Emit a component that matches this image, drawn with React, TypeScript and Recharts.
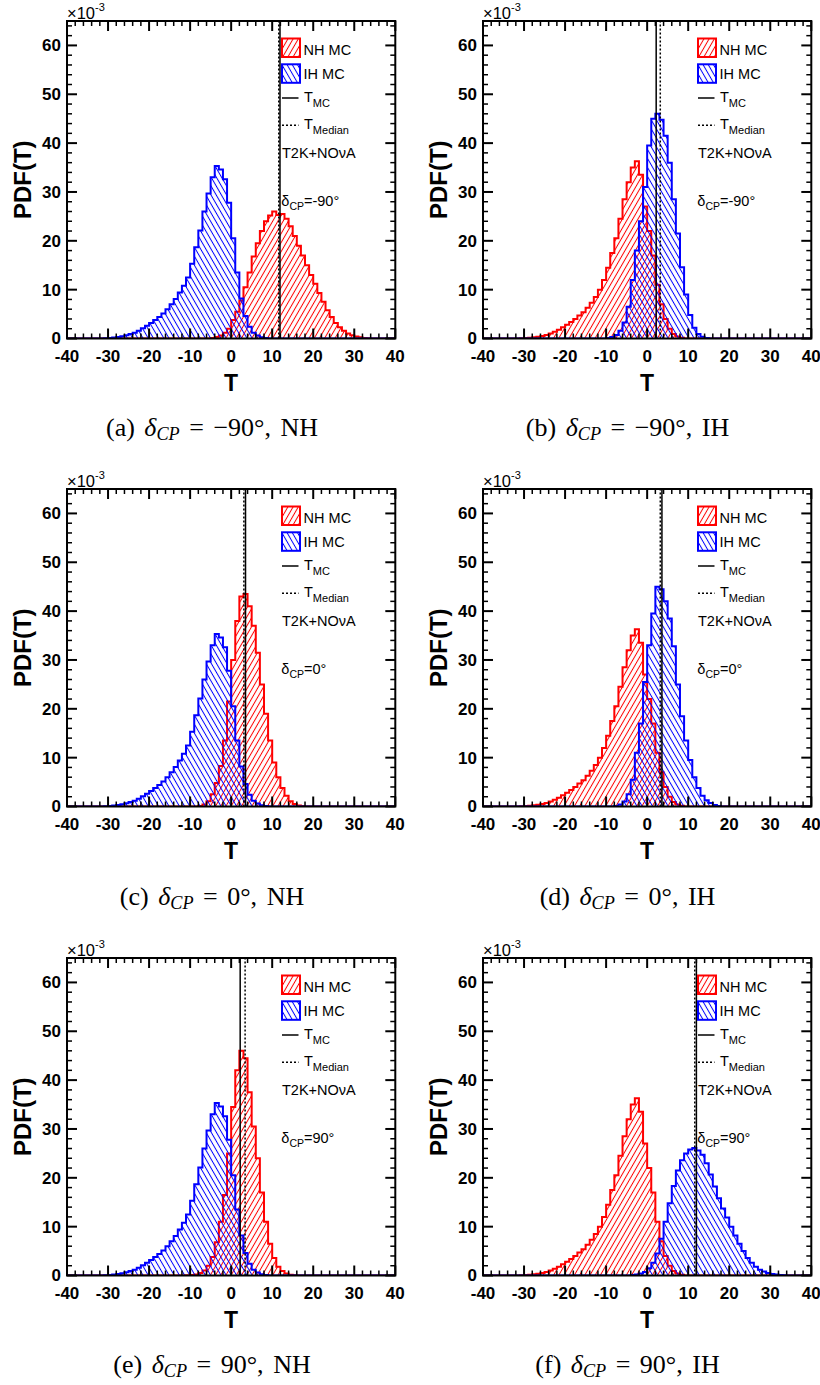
import React from 'react';
import { Area, ComposedChart, ReferenceArea, ReferenceLine, XAxis, YAxis } from 'recharts';

const SANS = '"Liberation Sans", Arial, Helvetica, sans-serif';
const SERIF = '"Liberation Serif", "Times New Roman", serif';

const T_MAJOR = [-40, -30, -20, -10, 0, 10, 20, 30, 40];
const T_TICKS = Array.from({ length: 41 }, (_, i) => -40 + 2 * i);
const PDF_MAJOR = [0, 10, 20, 30, 40, 50, 60];
const PDF_TICKS = Array.from({ length: 33 }, (_, i) => 2 * i);

// PDF(T) x 1e-3, one value per unit bin of T, the first bin starting at *_start
const nhA_start = -5;
const nhA = [0.1, 0.3, 0.6, 1.2, 2.0, 3.8, 5.5, 7.8, 10.5, 13.5, 16.8, 19.5, 22.0, 24.0, 25.2, 26.0, 25.3, 25.5, 24.5, 23.0, 21.0, 19.0, 17.0, 15.0, 13.0, 11.2, 9.3, 7.5, 5.8, 4.4, 3.2, 2.3, 1.6, 1.0, 0.65, 0.4, 0.25, 0.12, 0.05];

const nhC_start = -8;
const nhC = [0.1, 0.4, 1.1, 2.5, 4.8, 8.3, 13.5, 21.5, 30.0, 38.0, 43.0, 43.5, 41.0, 37.0, 31.5, 25.0, 19.0, 13.5, 9.0, 6.0, 3.8, 2.2, 1.1, 0.5, 0.2, 0.1];

const nhE_start = -11;
const nhE = [0.05, 0.1, 0.2, 0.5, 1.0, 2.0, 3.8, 6.8, 11.0, 16.5, 25.0, 34.5, 42.0, 46.0, 44.5, 37.5, 30.5, 24.0, 17.0, 11.0, 6.5, 3.6, 1.8, 0.9, 0.4, 0.15, 0.05];

// NH MC in the IH panels (b, d, f)
const nhIH_start = -31;
const nhIH = [0.05, 0.1, 0.15, 0.25, 0.35, 0.5, 0.7, 1.0, 1.4, 1.8, 2.3, 2.8, 3.4, 4.0, 4.7, 5.4, 6.3, 7.3, 8.5, 10.0, 12.0, 14.5, 17.5, 20.5, 24.5, 28.5, 32.0, 35.0, 36.3, 33.5, 27.0, 22.0, 17.0, 11.0, 7.0, 4.0, 2.0, 0.9, 0.4, 0.15];

// IH MC in the NH panels (a, c, e)
const ihNH_start = -31;
const ihNH = [0.06, 0.12, 0.2, 0.3, 0.45, 0.65, 0.9, 1.2, 1.6, 2.1, 2.6, 3.2, 3.8, 4.4, 5.1, 6.0, 7.0, 8.1, 9.4, 10.8, 12.5, 15.3, 18.7, 22.1, 26.0, 29.7, 33.0, 35.3, 34.6, 32.6, 27.8, 20.5, 13.5, 8.2, 4.6, 2.4, 1.2, 0.6, 0.25, 0.1];

const ihB_start = -10;
const ihB = [0.1, 0.3, 0.7, 1.6, 3.3, 6.5, 12.0, 18.0, 24.0, 31.0, 39.5, 45.0, 46.0, 44.8, 41.5, 36.0, 28.5, 21.5, 14.6, 9.0, 4.8, 2.2, 0.9, 0.35, 0.1];

const ihD_start = -8;
const ihD = [0.1, 0.4, 1.0, 2.5, 5.5, 11.0, 17.0, 25.5, 33.0, 39.5, 45.0, 44.5, 42.0, 38.5, 32.8, 25.0, 18.5, 13.5, 9.5, 6.0, 3.8, 2.2, 1.3, 0.7, 0.3, 0.1];

const ihF_start = -4;
const ihF = [0.1, 0.2, 0.4, 0.7, 1.5, 2.6, 4.5, 7.5, 11.0, 14.8, 18.3, 21.5, 23.6, 25.0, 25.8, 26.1, 25.6, 24.7, 23.0, 20.7, 18.2, 15.8, 13.7, 11.9, 10.0, 8.2, 6.5, 5.0, 3.6, 2.6, 1.8, 1.2, 0.8, 0.5, 0.3, 0.2, 0.1, 0.05];

// T_MC and T_Median per panel
const tMC = [11.9, 2.2, 3.5, 3.6, 2.2, 12.0];
const tMedian = [11.6, 3.2, 3.1, 3.2, 3.4, 11.6];

const panelTags = ['a', 'b', 'c', 'd', 'e', 'f'];
const deltaLabels = ['-90', '-90', '0', '0', '90', '90'];
const captionDelta = ['−90', '−90', '0', '0', '90', '90'];
const hierarchy = ['NH', 'IH', 'NH', 'IH', 'NH', 'IH'];

const T_BINS = Array.from({ length: 81 }, (_, i) => i - 40);

const histRows = (nh: number[], nhStart: number, ih: number[], ihStart: number) =>
  T_BINS.map((t) => ({ t, nh: nh[t - nhStart] ?? 0, ih: ih[t - ihStart] ?? 0 }));

const panelData = [
  histRows(nhA, nhA_start, ihNH, ihNH_start),
  histRows(nhIH, nhIH_start, ihB, ihB_start),
  histRows(nhC, nhC_start, ihNH, ihNH_start),
  histRows(nhIH, nhIH_start, ihD, ihD_start),
  histRows(nhE, nhE_start, ihNH, ihNH_start),
  histRows(nhIH, nhIH_start, ihF, ihF_start),
];

const COL_LEFT = [66.7, 482.7];
const ROW_TOP = [20.7, 489.0, 958.3];
const CAP_X = [212, 627.5];
const CAP_Y = [429, 898, 1366];
const PW = 328.3;
const PH = 317.5;
const ML = 67;
const MT = 25;
const MR = 12;
const MB = 70;
const AX = 0.01; // axes take (almost) no room, margins give the space

const labelStyle = { fill: '#000', fontSize: 17, fontWeight: 'bold' as const, fontFamily: SANS };

// ROOT-style ticks: inward on both opposite edges, long at labelled values
const TTick = (props: any) => {
  const { x, y, payload } = props;
  const isMajor = T_MAJOR.includes(payload.value);
  const len = isMajor ? 10 : 5;
  const sw = isMajor ? 2 : 1.5;
  return (
    <g>
      <line x1={x} x2={x} y1={y} y2={y - len} stroke="#000" strokeWidth={sw} />
      <line x1={x} x2={x} y1={y - PH} y2={y - PH + len} stroke="#000" strokeWidth={sw} />
      {isMajor && (
        <text x={x} y={y + 11} dy="0.71em" textAnchor="middle" {...labelStyle}>{payload.value}</text>
      )}
    </g>
  );
};

const PdfTick = (props: any) => {
  const { x, y, payload } = props;
  const isMajor = PDF_MAJOR.includes(payload.value);
  const len = isMajor ? 10 : 5;
  const sw = isMajor ? 2 : 1.5;
  return (
    <g>
      <line x1={x} x2={x + len} y1={y} y2={y} stroke="#000" strokeWidth={sw} />
      <line x1={x + PW} x2={x + PW - len} y1={y} y2={y} stroke="#000" strokeWidth={sw} />
      {isMajor && (
        <text x={x - 6} y={y} dy="0.35em" textAnchor="end" {...labelStyle}>{payload.value}</text>
      )}
    </g>
  );
};

const Hatches = () => (
  <svg width={0} height={0} style={{ position: 'absolute' }}>
    <defs>
      <pattern id="hatchNH" patternUnits="userSpaceOnUse" width={4.5} height={4.5} patternTransform="rotate(30)">
        <line x1={2.25} y1={0} x2={2.25} y2={4.5} stroke="#ff0000" strokeWidth={1} />
      </pattern>
      <pattern id="hatchIH" patternUnits="userSpaceOnUse" width={4.5} height={4.5} patternTransform="rotate(-30)">
        <line x1={2.25} y1={0} x2={2.25} y2={4.5} stroke="#0000ff" strokeWidth={1} />
      </pattern>
    </defs>
  </svg>
);

const Panel = ({ idx }: { idx: number }) => {
  const col = idx % 2;
  const row = Math.floor(idx / 2);
  const left = COL_LEFT[col] - ML;
  const top = ROW_TOP[row] - MT;
  const cw = ML + PW + MR;
  const ch = MT + PH + MB + 2 * AX;
  const txt = { fontFamily: SANS, fill: '#000' };
  return (
    <>
      <div style={{ position: 'absolute', left, top }}>
        <ComposedChart width={cw} height={ch} data={panelData[idx]} margin={{ top: MT, right: MR, bottom: MB, left: ML }}>
          <XAxis xAxisId="x" dataKey="t" type="number" domain={[-40, 40]} allowDataOverflow ticks={T_TICKS} interval={0}
            height={AX} tickSize={0} tickMargin={0} tickLine={false} axisLine={false} tick={<TTick />} />
          <YAxis yAxisId="y" type="number" domain={[0, 65]} allowDataOverflow ticks={PDF_TICKS} interval={0}
            width={AX} tickSize={0} tickMargin={0} tickLine={false} axisLine={false} tick={<PdfTick />} />
          <Area xAxisId="x" yAxisId="y" type="stepAfter" dataKey="nh" stroke="#ff0000" strokeWidth={2}
            fill="url(#hatchNH)" fillOpacity={1} dot={false} activeDot={false} isAnimationActive={false} />
          <Area xAxisId="x" yAxisId="y" type="stepAfter" dataKey="ih" stroke="#0000ff" strokeWidth={2}
            fill="url(#hatchIH)" fillOpacity={1} dot={false} activeDot={false} isAnimationActive={false} />
          <ReferenceLine xAxisId="x" yAxisId="y" x={tMC[idx]} stroke="#000" strokeWidth={1.5} />
          <ReferenceLine xAxisId="x" yAxisId="y" x={tMedian[idx]} stroke="#000" strokeWidth={1.5} strokeDasharray="2 2" />
          <ReferenceArea xAxisId="x" yAxisId="y" x1={-40} x2={40} y1={0} y2={65} fill="none" fillOpacity={0}
            stroke="#000" strokeWidth={2} ifOverflow="visible" />
        </ComposedChart>
      </div>
      <svg width={cw} height={ch} style={{ position: 'absolute', left, top, pointerEvents: 'none' }}>
        <g transform={`translate(${ML},${MT})`}>
          <text x={0} y={-2.4} fontSize={16.5} {...txt}>
            ×10<tspan dy={-8} fontSize={11}>-3</tspan>
          </text>
          <text transform={`translate(-35.7,${PH / 2}) rotate(-90)`} textAnchor="middle" fontSize={24} fontWeight="bold" {...txt}>
            PDF(T)
          </text>
          <text x={PW / 2} y={PH + 52} textAnchor="middle" fontSize={23} fontWeight="bold" {...txt}>T</text>

          <rect x={215} y={17.5} width={18} height={18.5} fill="url(#hatchNH)" stroke="#ff0000" strokeWidth={2} />
          <text x={236.6} y={33.8} fontSize={14.5} {...txt}>NH MC</text>
          <rect x={215} y={43.3} width={18} height={18.5} fill="url(#hatchIH)" stroke="#0000ff" strokeWidth={2} />
          <text x={236.6} y={57.8} fontSize={14.5} {...txt}>IH MC</text>
          <line x1={215} x2={231.5} y1={77} y2={77} stroke="#000" strokeWidth={1.5} />
          <text x={237} y={81} fontSize={14.5} {...txt}>
            T<tspan dy={5} fontSize={11}>MC</tspan>
          </text>
          <line x1={215} x2={231.5} y1={104.3} y2={104.3} stroke="#000" strokeWidth={1.5} strokeDasharray="2 2" />
          <text x={237} y={107.6} fontSize={14.5} {...txt}>
            T<tspan dy={5} fontSize={11}>Median</tspan>
          </text>
          <text x={215} y={136.6} fontSize={14.5} {...txt}>T2K+NOνA</text>
          <text x={214.3} y={185.3} fontSize={14.5} {...txt}>
            δ<tspan dy={4} fontSize={10.5}>CP</tspan><tspan dy={-4}>={deltaLabels[idx]}°</tspan>
          </text>
        </g>
      </svg>
      <div style={{
        position: 'absolute', left: CAP_X[col], top: CAP_Y[row], transform: 'translate(-50%, -50%)',
        fontFamily: SERIF, fontSize: 26, lineHeight: 1, whiteSpace: 'nowrap', color: '#000', wordSpacing: 3,
      }}>
        ({panelTags[idx]}) <i>δ</i><sub style={{ fontSize: '0.7em', fontStyle: 'italic', verticalAlign: '-0.25em' }}>CP</sub>
        {' '}= {captionDelta[idx]}°, {hierarchy[idx]}
      </div>
    </>
  );
};

export default function App() {
  return (
    <div style={{ position: 'absolute', left: 0, top: 0, width: 820, height: 1385, background: '#fff' }}>
      <Hatches />
      {panelTags.map((tag, i) => (
        <Panel key={tag} idx={i} />
      ))}
    </div>
  );
}
